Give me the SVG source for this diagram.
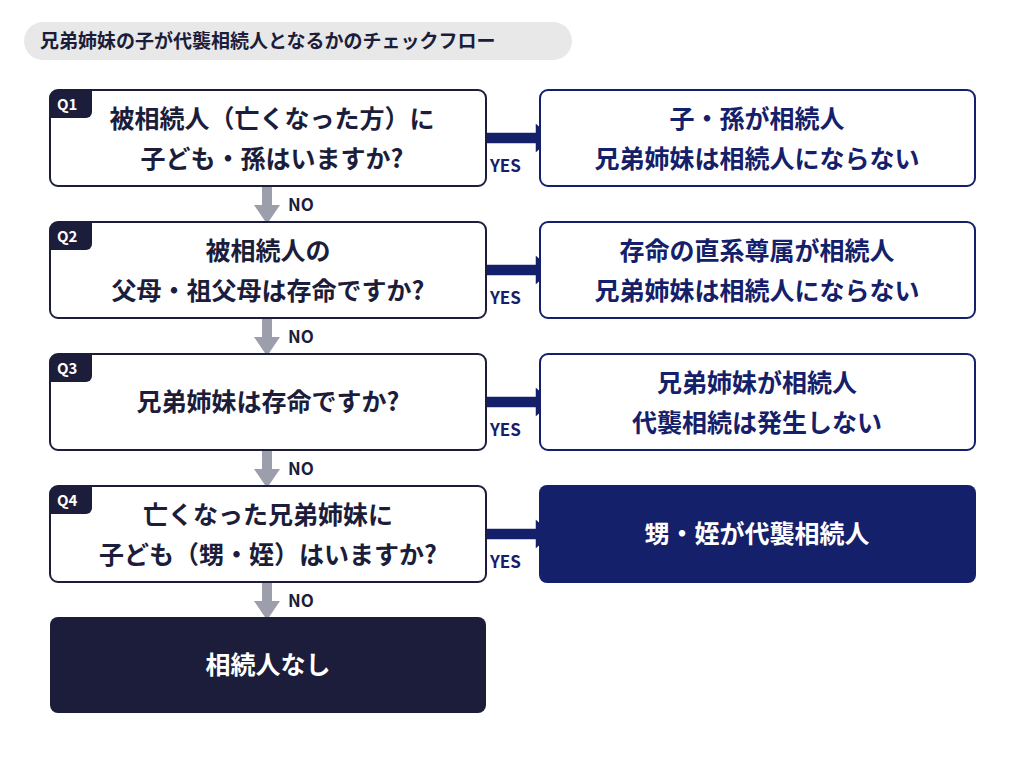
<svg xmlns="http://www.w3.org/2000/svg" width="1024" height="758" viewBox="0 0 1024 758">
<style>
text{font-family:"Noto Sans CJK JP","Noto Sans",sans-serif;font-weight:700}
.q{fill:#fff;stroke:#1b1d3a;stroke-width:2}
.r{fill:#fff;stroke:#15206b;stroke-width:2}
.t{font-size:25px;fill:#1b1d3a;text-anchor:middle}
.rt{font-size:25px;fill:#15206b;text-anchor:middle}
.w{font-size:25px;fill:#fff;text-anchor:middle}
.b{fill:#1b1d3a}
.bl{font-size:15px;fill:#fff}
.lab{font-size:17px;fill:#15206b}
.no{font-size:17px;fill:#1b1d3a}
</style>
<rect width="1024" height="758" fill="#fff"/>
<g id="title"><rect x="24" y="22" width="548" height="38" rx="19" fill="#e8e8e8"/><text x="40" y="48" font-size="19" fill="#1b1d3a">兄弟姉妹の子が代襲相続人となるかのチェックフロー</text></g>
<g id="connectors">
<g fill="#9c9eab">
<rect x="262" y="187" width="10" height="20"/><path d="M254 205H280L267 224Z"/>
<rect x="262" y="319" width="10" height="20"/><path d="M254 337H280L267 356Z"/>
<rect x="262" y="451" width="10" height="20"/><path d="M254 469H280L267 488Z"/>
<rect x="262" y="583" width="10" height="20"/><path d="M254 601H280L267 620Z"/>
</g>
<g class="no"><text x="288" y="211">NO</text><text x="288" y="343">NO</text><text x="288" y="475">NO</text><text x="288" y="607">NO</text></g>
<g fill="#15206b" stroke="#fff" stroke-width="1.5">
<path d="M486 132H535V122L553 138L535 154V144H486Z"/>
<path d="M486 264H535V254L553 270L535 286V276H486Z"/>
<path d="M486 396H535V386L553 402L535 418V408H486Z"/>
<path d="M486 528H535V518L553 534L535 550V540H486Z"/>
</g>
<g class="lab"><text x="490" y="172">YES</text><text x="490" y="304">YES</text><text x="490" y="436">YES</text><text x="490" y="568">YES</text></g>
</g>
<g id="q1"><rect class="q" x="50" y="90" width="436" height="96" rx="8"/><path class="b" d="M50 98a8 8 0 0 1 8-8H92V112a6 6 0 0 1-6 6H50Z"/><text class="bl" x="57" y="110">Q1</text><text class="t" x="272" y="128">被相続人（亡くなった方）に</text><text class="t" x="272" y="168">子ども・孫はいますか?</text></g>
<g id="q2"><rect class="q" x="50" y="222" width="436" height="96" rx="8"/><path class="b" d="M50 230a8 8 0 0 1 8-8H92V244a6 6 0 0 1-6 6H50Z"/><text class="bl" x="57" y="242">Q2</text><text class="t" x="268" y="260">被相続人の</text><text class="t" x="268" y="300">父母・祖父母は存命ですか?</text></g>
<g id="q3"><rect class="q" x="50" y="354" width="436" height="96" rx="8"/><path class="b" d="M50 362a8 8 0 0 1 8-8H92V376a6 6 0 0 1-6 6H50Z"/><text class="bl" x="57" y="374">Q3</text><text class="t" x="268" y="411">兄弟姉妹は存命ですか?</text></g>
<g id="q4"><rect class="q" x="50" y="486" width="436" height="96" rx="8"/><path class="b" d="M50 494a8 8 0 0 1 8-8H92V508a6 6 0 0 1-6 6H50Z"/><text class="bl" x="57" y="506">Q4</text><text class="t" x="268" y="524">亡くなった兄弟姉妹に</text><text class="t" x="268" y="564">子ども（甥・姪）はいますか?</text></g>
<g id="end"><rect x="50" y="617" width="436" height="96" rx="8" fill="#1b1d3a"/><text class="w" x="268" y="674">相続人なし</text></g>
<g id="a1"><rect class="r" x="540" y="90" width="435" height="96" rx="8"/><text class="rt" x="757" y="128">子・孫が相続人</text><text class="rt" x="757" y="168">兄弟姉妹は相続人にならない</text></g>
<g id="a2"><rect class="r" x="540" y="222" width="435" height="96" rx="8"/><text class="rt" x="757" y="260">存命の直系尊属が相続人</text><text class="rt" x="757" y="300">兄弟姉妹は相続人にならない</text></g>
<g id="a3"><rect class="r" x="540" y="354" width="435" height="96" rx="8"/><text class="rt" x="757" y="392">兄弟姉妹が相続人</text><text class="rt" x="757" y="432">代襲相続は発生しない</text></g>
<g id="a4"><rect x="539" y="485" width="437" height="98" rx="8" fill="#15206b"/><text class="w" x="757" y="543">甥・姪が代襲相続人</text></g>
</svg>
